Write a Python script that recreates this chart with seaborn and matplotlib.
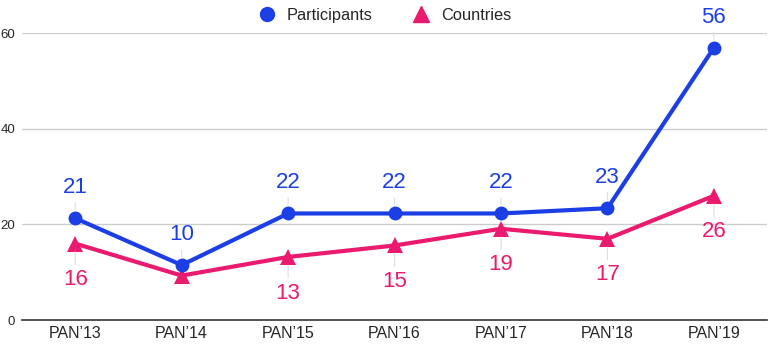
import matplotlib
matplotlib.use("Agg")
import matplotlib.pyplot as plt
from matplotlib.lines import Line2D
import numpy as np
import pandas as pd
import seaborn as sns

# data
editions = ["PAN\u201913", "PAN\u201914", "PAN\u201915", "PAN\u201916", "PAN\u201917", "PAN\u201918", "PAN\u201919"]
participants = [21.3, 11.5, 22.3, 22.3, 22.3, 23.4, 57.0]
participant_labels = ["21", "10", "22", "22", "22", "23", "56"]
countries = [16.0, 9.3, 13.2, 15.6, 19.1, 17.0, 26.0]
country_labels = ["16", "", "13", "15", "19", "17", "26"]

blue = "#1b3fe4"
pink = "#ea1a6e"

sns.set_style("white")
plt.rcParams['font.family'] = ['Liberation Sans', 'DejaVu Sans']

df = pd.DataFrame({"edition": editions, "x": np.arange(len(editions)),
                   "Participants": participants, "Countries": countries})

fig = plt.figure(figsize=(7.69, 3.47), dpi=100)
ax = fig.add_axes([0.0286, 0.0778, 0.969, 0.826])

sns.lineplot(data=df, x="x", y="Participants", ax=ax, color=blue, lw=3,
             marker="o", markersize=10, markeredgewidth=0, zorder=4, clip_on=False)
sns.lineplot(data=df, x="x", y="Countries", ax=ax, color=pink, lw=3,
             marker="^", markersize=11, markeredgewidth=0, zorder=3, clip_on=False)

# value labels with faint leader lines
for i, (v, lab) in enumerate(zip(participants, participant_labels)):
    ax.annotate(lab, xy=(i, v), xytext=(0, 22), textcoords="offset points",
                ha="center", va="center", fontsize=16, color=blue,
                annotation_clip=False,
                arrowprops=dict(arrowstyle="-", color="#dddddd", lw=0.8,
                                shrinkA=1, shrinkB=6))
for i, (v, lab) in enumerate(zip(countries, country_labels)):
    if not lab:
        continue
    ax.annotate(lab, xy=(i, v), xytext=(0, -26), textcoords="offset points",
                ha="center", va="center", fontsize=16, color=pink,
                annotation_clip=False,
                arrowprops=dict(arrowstyle="-", color="#dddddd", lw=0.8,
                                shrinkA=1, shrinkB=6))

ax.set_xlim(-0.5, 6.5)
ax.set_ylim(0, 60)
ax.set_xticks(df["x"])
ax.set_xticklabels(editions, fontsize=11.5)
ax.set_yticks([0, 20, 40, 60])
ax.tick_params(axis="y", labelsize=9.5, pad=5, length=0)
ax.tick_params(axis="x", length=0, pad=4)
ax.yaxis.grid(True, color="#cccccc", lw=1)
ax.set_xlabel("")
ax.set_ylabel("")
for s in ["left", "right", "top"]:
    ax.spines[s].set_visible(False)
ax.spines["bottom"].set_color("#333333")
ax.spines["bottom"].set_linewidth(1.2)

handles = [Line2D([], [], ls="none", marker="o", color=blue, markersize=10),
           Line2D([], [], ls="none", marker="^", color=pink, markersize=11)]
fig.legend(handles, ["Participants", "Countries"], loc="center",
           bbox_to_anchor=(0.495, 0.955), ncol=2, frameon=False, fontsize=11.8,
           handletextpad=0.2, columnspacing=2.0)

fig.savefig("out.png", dpi=100)
